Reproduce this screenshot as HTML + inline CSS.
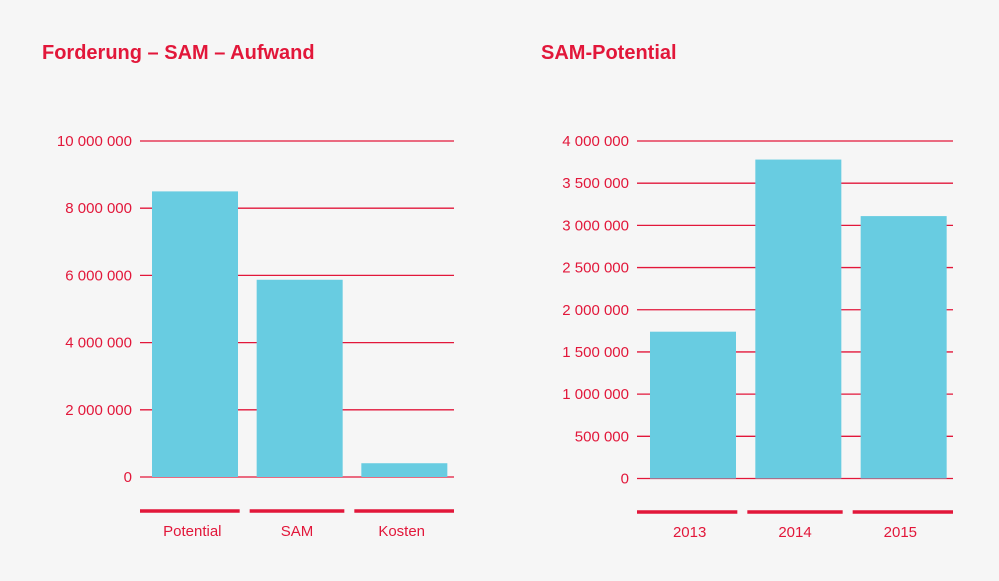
<!DOCTYPE html>
<html><head><meta charset="utf-8"><style>
body{margin:0;background:#f6f6f6;}
svg{display:block;font-family:"Liberation Sans",sans-serif;}
</style></head><body>
<svg width="999" height="581" viewBox="0 0 999 581">
<rect width="999" height="581" fill="#f6f6f6"/>
<text x="42" y="59" fill="#e2173a" font-size="20" font-weight="bold">Forderung – SAM – Aufwand</text>
<text x="541" y="59" fill="#e2173a" font-size="20" font-weight="bold">SAM-Potential</text>
<g id="c1"></g><g id="c2"></g>
</svg>
<script>
const cats1 = ["Potential","SAM","Kosten"];
const vals1 = [8500000,5870000,410000];
const ticks1 = [0,2000000,4000000,6000000,8000000,10000000];
const cats2 = ["2013","2014","2015"];
const vals2 = [1740000,3780000,3110000];
const ticks2 = [0,500000,1000000,1500000,2000000,2500000,3000000,3500000,4000000];
const NS="http://www.w3.org/2000/svg";
function mk(p,t,a){const e=document.createElementNS(NS,t);for(const k in a)e.setAttribute(k,a[k]);p.appendChild(e);return e;}
function fmt(v){return String(v).replace(/\B(?=(\d{3})+(?!\d))/g," ");}
function draw(g,cats,vals,ticks,o){
  const max=ticks[ticks.length-1];
  const y=v=>o.y0-(o.y0-o.yTop)*v/max;
  ticks.forEach(t=>{
    const l=mk(g,"line",{x1:o.x0,x2:o.x1,y1:y(t),y2:y(t),stroke:"#e2173a","stroke-width":1.3});
    
    
    const tx=mk(g,"text",{x:o.x0-8,y:y(t)+5,"text-anchor":"end",fill:"#e2173a","font-size":15});
    tx.textContent=fmt(t);
    
    
  });
  const w=(o.x1-o.x0)/cats.length;
  cats.forEach((c,i)=>{
    const bx=o.x0+i*w+o.pad;
    const r=mk(g,"rect",{x:bx,y:y(vals[i]),width:o.bw,height:o.y0-y(vals[i]),fill:"#68cce1"});
    
    
    const s=mk(g,"line",{x1:o.x0+i*w+(i?5:0),x2:o.x0+(i+1)*w-(i<cats.length-1?5:0),y1:o.sy,y2:o.sy,stroke:"#e2173a","stroke-width":3.5});
    
    
    const t=mk(g,"text",{x:o.x0+(i+0.5)*w,y:o.sy+25,"text-anchor":"middle",fill:"#e2173a","font-size":15});
    t.textContent=c;
    
    
  });
}
draw(document.getElementById("c1"),cats1,vals1,ticks1,{x0:140,x1:454,y0:477,yTop:141,pad:12,bw:86,sy:511});
draw(document.getElementById("c2"),cats2,vals2,ticks2,{x0:637,x1:953,y0:478.5,yTop:141,pad:13,bw:86,sy:512});
</script>
</body></html>
